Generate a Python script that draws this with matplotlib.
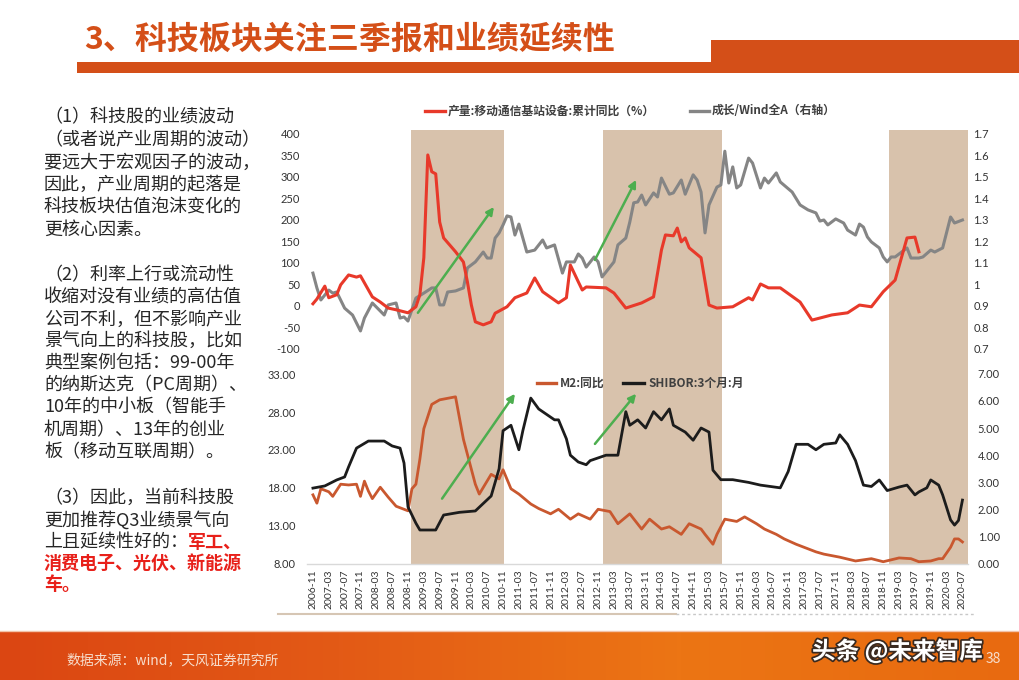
import matplotlib
matplotlib.use("Agg")
import numpy as np
import matplotlib.pyplot as plt
from matplotlib.lines import Line2D
from matplotlib.patches import Rectangle
import matplotlib.patheffects as pe
from matplotlib.colors import LinearSegmentedColormap

plt.rcParams['font.family'] = ['Noto Sans CJK SC', 'DejaVu Sans']

# ---------------- data ----------------
x_tick_labels = ["2006-11", "2007-03", "2007-07", "2007-11", "2008-03", "2008-07", "2008-11",
                 "2009-03", "2009-07", "2009-11", "2010-03", "2010-07", "2010-11", "2011-03",
                 "2011-07", "2011-11", "2012-03", "2012-07", "2012-11", "2013-03", "2013-07",
                 "2013-11", "2014-03", "2014-07", "2014-11", "2015-03", "2015-07", "2015-11",
                 "2016-03", "2016-07", "2016-11", "2017-03", "2017-07", "2017-11", "2018-03",
                 "2018-07", "2018-11", "2019-03", "2019-07", "2019-11", "2020-03", "2020-07"]

# shaded periods, in months since 2006-11
band_start_month = [24.7, 73.2, 145.5]
band_end_month = [48.2, 103.3, 165.4]

# 产量:移动通信基站设备:累计同比(%) -- months since 2006-11
red_month = [0, 1, 3, 4, 6, 7, 9, 11, 12, 15, 17, 19, 21, 24, 26, 27, 28, 29, 30, 31,
             32, 33, 36, 38, 39, 40, 41, 43, 45, 46, 49, 51, 54, 56, 58, 62, 64, 65, 67, 68,
             69, 74, 76, 79, 83, 86, 88, 89, 91, 92, 93, 94, 95, 98, 100, 102, 106, 110, 111, 113,
             115, 118, 123, 126, 131, 135, 138, 141, 144, 147, 150, 152, 153]
red_value = [5, 16, 46, 19, 26, 49, 72, 67, 70, 21, 9, -5, -9, -16, -2, 26, 112, 351, 312, 307,
             195, 158, 126, 102, 56, 2, -37, -44, -37, -17, -2, 19, 30, 65, 33, 7, 19, 95, 56, 37,
             44, 42, 30, -5, 7, 21, 130, 165, 163, 181, 149, 158, 135, 112, 2, -5, -2, 19, 14, 51,
             42, 42, 9, -33, -21, -16, 2, -2, 33, 60, 158, 160, 126]

# 成长/Wind全A (右轴)
gray_month = [0, 1, 2, 4, 5, 6, 8, 10, 12, 13, 15, 18, 19, 21, 22, 23, 24, 26, 28, 30,
              31, 32, 33, 34, 36, 38, 39, 41, 43, 44, 45, 46, 47, 48, 49, 50, 51, 52, 54, 56,
              58, 59, 61, 63, 64, 66, 67, 68, 69, 71, 72, 73, 76, 77, 79, 80, 81, 82, 83, 84,
              86, 87, 88, 90, 91, 93, 94, 96, 97, 98, 99, 100, 102, 103, 104, 105, 106, 107, 108, 110,
              111, 113, 114, 115, 117, 118, 121, 123, 125, 127, 128, 129, 130, 132, 134, 135, 137, 138, 139, 140,
              141, 143, 144, 145, 146, 147, 150, 151, 153, 154, 156, 157, 159, 161, 162, 164]
gray_value = [1.053, 0.984, 0.928, 0.974, 0.96, 0.965, 0.89, 0.858, 0.784, 0.844,
              0.914, 0.858, 0.905, 0.914, 0.844, 0.849, 0.83, 0.937, 0.96, 0.984,
              0.984, 0.905, 0.905, 0.965, 0.97, 0.984, 1.077, 1.105, 1.151, 1.123,
              1.123, 1.216, 1.24, 1.277, 1.319, 1.314, 1.23, 1.281, 1.151, 1.16,
              1.207, 1.17, 1.184, 1.053, 1.105, 1.105, 1.142, 1.123, 1.081, 1.128,
              1.105, 1.035, 1.105, 1.184, 1.216, 1.29, 1.38, 1.384, 1.416, 1.37,
              1.426, 1.407, 1.495, 1.42, 1.426, 1.486, 1.42, 1.51, 1.486, 1.43,
              1.24, 1.37, 1.453, 1.463, 1.62, 1.472, 1.547, 1.449, 1.463, 1.588,
              1.565, 1.449, 1.495, 1.472, 1.519, 1.477, 1.43, 1.37, 1.347, 1.333,
              1.295, 1.3, 1.277, 1.305, 1.286, 1.253, 1.23, 1.281, 1.267, 1.221,
              1.198, 1.17, 1.128, 1.105, 1.128, 1.128, 1.17, 1.123, 1.123, 1.128,
              1.16, 1.151, 1.17, 1.314, 1.286, 1.3]

# M2:同比 (left axis, bottom chart)
m2_month = [0, 1, 2, 4, 5, 7, 9, 11, 12, 13, 14, 15, 17, 19, 21, 23, 24, 25, 26, 27,
            28, 30, 32, 36, 38, 41, 42, 45, 47, 48, 50, 52, 55, 57, 60, 62, 65, 67, 70, 72,
            75, 77, 80, 83, 85, 88, 90, 93, 95, 98, 99, 101, 102, 104, 107, 109, 112, 114, 117, 119,
            122, 124, 127, 129, 133, 137, 141, 144, 148, 151, 153, 156, 158, 159, 161, 162, 163, 164]
m2_value = [17.1, 16.0, 17.9, 17.5, 16.9, 18.5, 18.4, 18.5, 16.9, 18.9,
            17.6, 16.6, 18.1, 16.8, 15.6, 15.2, 15.0, 17.9, 18.5, 21.8,
            25.8, 29.0, 29.6, 30.0, 24.4, 18.5, 17.2, 19.8, 19.2, 20.4,
            17.9, 17.2, 15.9, 15.3, 14.6, 15.2, 13.9, 14.6, 13.9, 15.2,
            14.9, 13.3, 14.6, 12.6, 13.9, 12.6, 12.9, 11.9, 13.3, 12.6,
            11.9, 10.6, 11.9, 13.9, 13.6, 14.2, 13.3, 12.6, 11.9, 11.3,
            10.6, 10.2, 9.6, 9.3, 8.9, 8.4, 8.7, 8.3, 8.8, 8.7,
            8.3, 8.4, 8.7, 8.7, 10.2, 11.3, 11.3, 10.9]

# SHIBOR:3个月:月 (right axis, bottom chart)
shibor_month = [0, 3, 6, 8, 9, 11, 14, 18, 20, 22, 23, 24, 26, 27, 31, 33, 37, 41, 45, 47,
                48, 50, 52, 53, 55, 57, 59, 61, 62, 64, 65, 67, 69, 70, 72, 74, 77, 79, 80, 82,
                84, 86, 88, 90, 91, 94, 96, 98, 100, 101, 103, 106, 110, 113, 118, 120, 122, 125, 127, 129,
                132, 133, 135, 137, 139, 141, 143, 145, 148, 150, 152, 153, 155, 156, 158, 159, 161, 162, 163, 164]
shibor_value = [2.79, 2.87, 3.09, 3.2, 3.57, 4.26, 4.52, 4.52, 4.34, 4.26,
                3.71, 2.1, 1.5, 1.25, 1.25, 1.8, 1.9, 1.95, 2.5, 3.5,
                4.9, 5.1, 4.2, 4.9, 6.1, 5.7, 5.5, 5.3, 5.3, 4.6,
                4.0, 3.75, 3.65, 3.8, 3.9, 4.0, 4.0, 5.6, 5.1, 5.3,
                5.0, 5.6, 5.3, 5.7, 5.1, 4.85, 4.55, 5.0, 4.85, 3.45,
                3.1, 3.1, 3.0, 2.9, 2.8, 3.4, 4.4, 4.4, 4.2, 4.4,
                4.45, 4.75, 4.4, 3.8, 2.9, 2.85, 3.09, 2.7, 2.83, 2.9,
                2.54, 2.65, 2.8, 3.09, 2.9, 2.54, 1.62, 1.43, 1.6, 2.35]

# green trend arrows: (start month, start value) -> (end month, end value)
top_arrows = [((26.5, -16), (45.7, 230)), ((71.2, 107), (81.6, 293))]
bottom_arrows = [((32.6, 16.6), (51.0, 30.4)), ((71.2, 23.8), (81.6, 30.4))]

top_left_ticks = [-100, -50, 0, 50, 100, 150, 200, 250, 300, 350, 400]
top_right_ticks = [0.7, 0.8, 0.9, 1.0, 1.1, 1.2, 1.3, 1.4, 1.5, 1.6, 1.7]
bottom_left_ticks = [8, 13, 18, 23, 28, 33]
bottom_right_ticks = [0, 1, 2, 3, 4, 5, 6, 7]

title_text = "3、科技板块关注三季报和业绩延续性"
para_lines = [
    ("（1）科技股的业绩波动", 117),
    ("（或者说产业周期的波动）", 140),
    ("要远大于宏观因子的波动，", 163),
    ("因此，产业周期的起落是", 185),
    ("科技板块估值泡沫变化的", 208),
    ("更核心因素。", 230),
    ("（2）利率上行或流动性", 275),
    ("收缩对没有业绩的高估值", 297),
    ("公司不利，但不影响产业", 320),
    ("景气向上的科技股，比如", 341),
    ("典型案例包括：99-00年", 363),
    ("的纳斯达克（PC周期）、", 385),
    ("10年的中小板（智能手", 407),
    ("机周期）、13年的创业", 430),
    ("板（移动互联周期）。", 452),
    ("（3）因此，当前科技股", 498),
    ("更加推荐Q3业绩景气向", 520),
]

# ---------------- figure ----------------
W, H = 1020, 680
fig = plt.figure(figsize=(W / 100, H / 100), dpi=100)
fig.patch.set_facecolor("white")


def fx(px):
    return px / W


def fy(py):
    return 1 - py / H


def month_of(label):
    y, m = label.split("-")
    return (int(y) - 2006) * 12 + int(m) - 11


ORANGE = "#D44F18"
RED = "#E8392A"
GRAY = "#858585"
M2C = "#C9582F"
BLACK = "#1C1C1C"
GREEN = "#4DAE4F"
BAND = "#D8C2AC"
TXT = "#262626"
NUMFONT = ["Lato", "DejaVu Sans"]

# title + header bars
fig.text(fx(84), fy(40), title_text, fontsize=23, weight="bold", color=ORANGE,
         ha="left", va="center")
fig.add_artist(Rectangle((fx(77), fy(73)), fx(711) - fx(77), 11 / H,
                         transform=fig.transFigure, color=ORANGE, lw=0))
fig.add_artist(Rectangle((fx(711), fy(73)), 1 - fx(711), 33 / H,
                         transform=fig.transFigure, color=ORANGE, lw=0))

# left text
for line, y in para_lines:
    fig.text(fx(44), fy(y), line, fontsize=13, color=TXT, ha="left", va="center")
t_black = fig.text(fx(44), fy(542), "上且延续性好的：", fontsize=13, color=TXT,
                   ha="left", va="center")
fig.canvas.draw()
bb = t_black.get_window_extent()
fig.text(bb.x1 / W, fy(542), "军工、", fontsize=13, color="#E8201A", weight="bold",
         ha="left", va="center")
fig.text(fx(44), fy(563), "消费电子、光伏、新能源", fontsize=13, color="#E8201A",
         weight="bold", ha="left", va="center")
fig.text(fx(44), fy(584), "车。", fontsize=13, color="#E8201A", weight="bold",
         ha="left", va="center")

# ---------------- charts ----------------
AX_L, AX_R = 307, 968
xlim = (-1.5, 165.4)

ax1 = fig.add_axes([fx(AX_L), fy(370), fx(AX_R) - fx(AX_L), 240 / H])
ax1r = ax1.twinx()
ax2 = fig.add_axes([fx(AX_L), fy(564), fx(AX_R) - fx(AX_L), 194 / H])
ax2r = ax2.twinx()

# top chart: red on top of gray
ax1.set_zorder(ax1r.get_zorder() + 1)
ax1.patch.set_visible(False)
for s, e in zip(band_start_month, band_end_month):
    ax1r.axvspan(s, e, color=BAND, lw=0, zorder=0)
    ax2.axvspan(s, e, color=BAND, lw=0, zorder=0)

ax1r.plot(gray_month, gray_value, color=GRAY, lw=2.2, solid_joinstyle="round")
ax1.plot(red_month, red_value, color=RED, lw=2.2, solid_joinstyle="round")
for (x0, y0), (x1, y1) in top_arrows:
    ax1.annotate("", xy=(x1, y1), xytext=(x0, y0),
                 arrowprops=dict(arrowstyle="-|>", color=GREEN, lw=1.8, mutation_scale=11,
                                 shrinkA=0, shrinkB=0))

ax1.set_xlim(*xlim)
ax1r.set_xlim(*xlim)
ax1.set_ylim(-149, 409)
ax1r.set_ylim(0.6023, 1.7186)
ax1.set_yticks(top_left_ticks)
ax1.set_yticklabels([f"{v:g}" for v in top_left_ticks])
ax1r.set_yticks(top_right_ticks)
ax1r.set_yticklabels([f"{v:g}" for v in top_right_ticks])
ax1.set_xticks([])
for a in (ax1, ax1r):
    for sp in a.spines.values():
        sp.set_visible(False)
ax1.tick_params(axis="y", length=0, pad=5, labelsize=8, labelcolor="#333333")
ax1r.tick_params(axis="y", length=0, pad=4, labelsize=8, labelcolor="#333333")
for lab in ax1.get_yticklabels() + ax1r.get_yticklabels():
    lab.set_family(NUMFONT)

# bottom chart
ax2.plot(m2_month, m2_value, color=M2C, lw=2.0, solid_joinstyle="round")
ax2r.plot(shibor_month, shibor_value, color=BLACK, lw=2.0, solid_joinstyle="round")
for (x0, y0), (x1, y1) in bottom_arrows:
    ax2.annotate("", xy=(x1, y1), xytext=(x0, y0),
                 arrowprops=dict(arrowstyle="-|>", color=GREEN, lw=1.8, mutation_scale=11,
                                 shrinkA=0, shrinkB=0))
ax2.set_xlim(*xlim)
ax2r.set_xlim(*xlim)
ax2.set_ylim(8, 8 + 194 / 7.6)
ax2r.set_ylim(0, 194 / 27.2)
ax2.set_yticks(bottom_left_ticks)
ax2.set_yticklabels([f"{v:.2f}" for v in bottom_left_ticks])
ax2r.set_yticks(bottom_right_ticks)
ax2r.set_yticklabels([f"{v:.2f}" for v in bottom_right_ticks])
ax2.set_xticks([month_of(l) for l in x_tick_labels])
ax2.set_xticklabels(x_tick_labels, rotation=90)
for a in (ax2, ax2r):
    for sp in a.spines.values():
        sp.set_visible(False)
ax2.spines["bottom"].set_visible(True)
ax2.spines["bottom"].set_color("#D9D9D9")
ax2.spines["bottom"].set_linewidth(1.0)
ax2.tick_params(axis="y", length=0, pad=8, labelsize=8, labelcolor="#333333")
ax2r.tick_params(axis="y", length=0, pad=7, labelsize=8, labelcolor="#333333")
ax2.tick_params(axis="x", length=0, pad=4, labelsize=7.5, labelcolor="#333333")
for lab in ax2.get_yticklabels() + ax2r.get_yticklabels() + ax2.get_xticklabels():
    lab.set_family(NUMFONT)

# legends (drawn in figure coordinates)
def legend_item(x_line0, x_line1, x_text, y, color, text, lw=2.4):
    fig.add_artist(Line2D([fx(x_line0), fx(x_line1)], [fy(y), fy(y)], color=color, lw=lw,
                          transform=fig.transFigure))
    fig.text(fx(x_text), fy(y), text, fontsize=8.5, weight="bold", color="#404040",
             ha="left", va="center")

legend_item(425, 445, 448, 111, RED, "产量:移动通信基站设备:累计同比（%）")
legend_item(690, 709, 712, 111, GRAY, "成长/Wind全A（右轴）")
legend_item(537, 556, 560, 383, M2C, "M2:同比")
legend_item(623, 644, 648, 383, BLACK, "SHIBOR:3个月:月")

# chart image bottom border
fig.add_artist(Line2D([fx(278), fx(676)], [fy(614), fy(614)], color="#D6C6B4", lw=1.5,
                      transform=fig.transFigure))
fig.add_artist(Line2D([fx(676), fx(975)], [fy(614), fy(614)], color="#C8C8C8", lw=1.0,
                      ls=(0, (2, 2)), transform=fig.transFigure))

# footer gradient band
axf = fig.add_axes([0, 0, 1, 49 / H])
cmap = LinearSegmentedColormap.from_list("ft", ["#DB4612", "#E35A16", "#EC7514", "#E86A10"])
axf.imshow(np.linspace(0, 1, 256).reshape(1, -1), aspect="auto", cmap=cmap,
           extent=[0, 1, 0, 1])
axf.set_axis_off()
fig.add_artist(Line2D([0, 1], [fy(631), fy(631)], color="#F2C2A8", lw=1.0,
                      transform=fig.transFigure))
fig.text(fx(66), fy(660), "数据来源：wind，天风证券研究所", fontsize=10, color="#F7DDCC",
         ha="left", va="center")
fig.text(fx(812), fy(651), "头条 @未来智库", fontsize=17, color="white", weight="bold",
         ha="left", va="center",
         path_effects=[pe.withStroke(linewidth=2.5, foreground="#3A2A20")])
fig.text(fx(986), fy(659), "38", fontsize=10, color="#F7DDCC", ha="left", va="center")

fig.savefig("out.png", dpi=100)
